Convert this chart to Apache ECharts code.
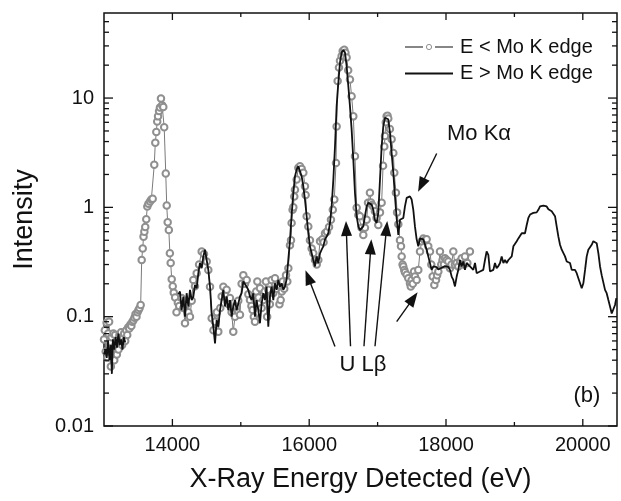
<!DOCTYPE html>
<html>
<head>
<meta charset="utf-8">
<script src="https://cdn.jsdelivr.net/npm/echarts@6/dist/echarts.min.js"></script>
<style>
html, body { margin: 0; background: #fff; }
#chart { width: 621px; height: 501px; }
</style>
</head>
<body>
<div id="chart"></div>
<script>
// E < Mo K edge (open circles)
const belowEdge = [
  [13000,0.062],[13012,0.075],[13025,0.048],[13038,0.088],[13050,0.042],[13062,0.07],[13075,0.09],[13088,0.058],
  [13100,0.035],[13112,0.065],[13125,0.052],[13138,0.07],[13150,0.04],[13162,0.068],[13175,0.055],[13188,0.045],
  [13200,0.062],[13212,0.05],[13225,0.068],[13238,0.058],[13250,0.072],[13265,0.055],[13280,0.065],[13295,0.07],
  [13310,0.06],[13325,0.075],[13340,0.068],[13355,0.08],[13370,0.078],[13385,0.085],[13400,0.082],[13415,0.09],
  [13430,0.093],[13445,0.098],[13460,0.105],[13475,0.1],[13490,0.11],[13505,0.115],[13520,0.12],[13536,0.128],
  [13551,0.33],[13566,0.42],[13578,0.54],[13590,0.6],[13603,0.66],[13618,0.78],[13633,1.02],[13650,1.08],
  [13673,1.13],[13692,1.18],[13712,1.2],[13735,2.46],[13750,3.9],[13765,4.9],[13778,6.1],[13790,6.8],
  [13805,7.6],[13818,8.2],[13833,9.9],[13850,8.6],[13867,8.3],[13880,5.4],[13903,2.04],[13917,1.04],
  [13931,0.73],[13948,0.62],[13963,0.38],[13975,0.31],[13990,0.22],[14005,0.19],[14020,0.166],[14040,0.15],
  [14060,0.11],[14080,0.134],[14100,0.125],[14135,0.148],[14160,0.12],[14184,0.087],[14210,0.13],[14233,0.11],
  [14257,0.1],[14282,0.14],[14306,0.217],[14330,0.19],[14355,0.25],[14390,0.3],[14428,0.395],[14462,0.375],
  [14501,0.32],[14525,0.268],[14550,0.188],[14574,0.097],[14600,0.075],[14623,0.09],[14650,0.11],[14671,0.073],
  [14700,0.12],[14720,0.153],[14745,0.188],[14770,0.16],[14793,0.176],[14820,0.13],[14842,0.148],[14866,0.11],
  [14890,0.073],[14915,0.1],[14939,0.124],[14963,0.14],[14988,0.104],[15012,0.2],[15037,0.24],[15062,0.2],
  [15086,0.217],[15110,0.16],[15134,0.142],[15155,0.125],[15173,0.115],[15190,0.1],[15207,0.09],[15225,0.17],
  [15242,0.21],[15260,0.15],[15281,0.182],[15305,0.12],[15329,0.142],[15350,0.17],[15368,0.21],[15385,0.1],
  [15402,0.176],[15425,0.13],[15451,0.217],[15475,0.165],[15500,0.225],[15525,0.18],[15549,0.195],[15565,0.13],
  [15583,0.142],[15600,0.17],[15612,0.21],[15635,0.18],[15661,0.24],[15680,0.21],[15695,0.278],[15719,0.45],
  [15734,0.5],[15743,0.72],[15757,0.95],[15768,1.0],[15782,1.26],[15792,1.45],[15817,1.8],[15841,2.3],
  [15865,2.38],[15890,2.25],[15914,2.07],[15938,1.56],[15948,1.3],[15963,0.83],[15987,0.67],[16011,0.5],
  [16036,0.42],[16060,0.38],[16085,0.33],[16110,0.3],[16133,0.33],[16158,0.49],[16192,0.51],[16210,0.48],
  [16231,0.58],[16260,0.6],[16290,0.66],[16318,0.77],[16345,0.95],[16367,1.18],[16392,2.55],[16401,5.5],
  [16416,14.3],[16435,19],[16450,21.9],[16474,24.3],[16490,27],[16513,27.6],[16530,26],[16547,23.5],
  [16570,18],[16596,14.8],[16620,10.4],[16645,6.8],[16669,2.94],[16694,0.99],[16718,0.85],[16742,0.83],
  [16765,0.65],[16791,0.56],[16815,0.65],[16840,0.77],[16860,1.1],[16888,1.36],[16903,1.11],[16920,1.05],
  [16937,1.02],[16961,0.92],[16985,0.8],[17010,0.69],[17035,0.9],[17059,1.1],[17080,2.4],[17098,3.6],
  [17108,4.5],[17120,6.0],[17132,6.8],[17145,6.9],[17156,6.5],[17180,5.2],[17205,4.2],[17230,3.15],
  [17244,2.07],[17268,1.36],[17285,0.9],[17303,0.7],[17327,0.5],[17342,0.44],[17352,0.356],[17365,0.3],
  [17376,0.288],[17390,0.268],[17400,0.255],[17425,0.242],[17449,0.225],[17473,0.202],[17485,0.189],[17498,0.217],
  [17515,0.2],[17532,0.259],[17546,0.233],[17571,0.217],[17595,0.268],[17620,0.395],[17644,0.49],[17668,0.52],
  [17690,0.5],[17717,0.51],[17741,0.44],[17766,0.395],[17785,0.3],[17805,0.233],[17829,0.195],[17854,0.217],
  [17870,0.24],[17888,0.259],[17912,0.395],[17930,0.3],[17951,0.33],[17970,0.3],[17985,0.343],[18010,0.33],
  [18034,0.32],[18058,0.278],[18080,0.3],[18107,0.395],[18130,0.3],[18156,0.31],[18180,0.288],[18205,0.32],
  [18229,0.343],[18255,0.3],[18277,0.356],[18312,0.31],[18350,0.395]
];

// E > Mo K edge (solid line), null = gap
const aboveEdge = [
  [13000,0.045],[13020,0.05],[13040,0.042],[13060,0.06],[13080,0.04],[13100,0.055],[13115,0.03],[13130,0.062],
  [13150,0.05],[13170,0.065],[13190,0.052],[13210,0.07],[13230,0.055],[13250,0.062],[13270,0.05],[13290,0.065],
  [13310,0.058],[13320,null],
  [14085,0.16],[14111,0.17],[14135,0.115],[14160,0.153],[14184,0.1],[14208,0.164],[14233,0.124],[14257,0.176],
  [14282,0.142],[14306,0.153],[14330,0.195],[14355,0.182],[14379,0.25],[14403,0.31],[14428,0.278],[14452,0.355],
  [14476,0.41],[14501,0.33],[14525,0.268],[14550,0.188],[14574,0.107],[14598,0.081],[14623,0.057],[14647,0.093],
  [14671,0.081],[14696,0.115],[14720,0.142],[14744,0.176],[14769,0.124],[14793,0.153],[14817,0.115],[14842,0.142],
  [14866,0.1],[14890,0.124],[14915,0.142],[14939,0.115],[14963,0.131],[14988,0.153],[15012,0.164],[15037,0.21],
  [15061,0.217],[15085,0.188],[15110,0.176],[15134,0.153],[15158,0.142],[15183,0.164],[15207,0.1],[15231,0.142],
  [15256,0.115],[15280,0.087],[15304,0.131],[15329,0.164],[15353,0.142],[15377,0.188],[15402,0.081],[15426,0.153],
  [15451,0.188],[15475,0.142],[15499,0.202],[15524,0.176],[15548,0.217],[15572,0.188],[15597,0.202],[15621,0.176],
  [15645,0.188],[15670,0.22],[15694,0.33],[15719,0.5],[15743,0.85],[15768,1.35],[15792,1.92],[15817,2.22],
  [15841,2.38],[15865,2.3],[15890,1.92],[15914,1.56],[15938,1.18],[15963,0.83],[15987,0.58],[16011,0.44],
  [16036,0.38],[16060,0.33],[16085,0.288],[16109,0.356],[16133,0.31],[16158,0.38],[16182,0.41],[16206,0.44],
  [16231,0.51],[16255,0.54],[16279,0.58],[16304,0.72],[16328,1.02],[16353,1.8],[16377,3.6],[16401,8.4],
  [16426,13.8],[16450,21.1],[16474,26.1],[16499,27.6],[16523,26.1],[16547,19.7],[16572,12.9],[16596,8.4],
  [16620,5.2],[16645,2.74],[16669,1.36],[16694,0.83],[16718,0.67],[16742,0.62],[16767,0.6],[16791,0.67],
  [16815,0.83],[16840,1.02],[16864,1.1],[16888,1.14],[16913,1.06],[16937,0.95],[16961,0.77],[16986,0.72],
  [17010,0.89],[17035,1.8],[17059,3.6],[17083,5.5],[17108,6.6],[17132,6.8],[17156,6.4],[17181,4.8],
  [17205,3.15],[17230,2.07],[17254,1.26],[17278,0.8],[17303,0.56],[17327,0.77],[17352,0.78],[17376,0.8],
  [17400,1.02],[17425,1.22],[17449,1.26],[17473,1.26],[17498,1.18],[17522,0.95],[17546,0.67],[17571,0.51],
  [17595,0.44],[17620,0.52],[17644,0.54],[17668,0.51],[17693,0.49],[17717,0.41],[17741,0.356],[17766,0.343],
  [17790,0.268],[17815,0.288],[17839,0.278],[17863,0.284],[17888,0.27],[17912,0.272],[17937,0.28],[17961,0.288],
  [17985,0.29],[18009,0.298],[18034,0.285],[18058,0.268],[18083,0.233],[18107,0.217],[18131,0.189],[18156,0.233],
  [18180,0.268],[18204,0.33],[18229,0.288],[18253,0.32],[18277,0.268],[18302,0.31],[18326,0.32],[18350,0.288],
  [18375,0.28],[18399,0.268],[18424,0.31],[18448,0.25],[18472,0.26],[18497,0.259],[18521,0.265],[18545,0.268],
  [18570,0.33],[18594,0.395],[18619,0.368],[18643,0.259],[18667,0.262],[18692,0.268],[18716,0.31],[18740,0.278],
  [18765,0.29],[18790,0.31],[18814,0.356],[18839,0.31],[18863,0.33],[18887,0.31],[18912,0.33],[18936,0.32],
  [18961,0.356],[18985,0.44],[19009,0.455],[19034,0.49],[19058,0.52],[19082,0.54],[19107,0.58],[19131,0.56],
  [19155,0.58],[19180,0.69],[19204,0.8],[19229,0.86],[19253,0.89],[19277,0.89],[19302,0.89],[19326,0.9],
  [19350,0.95],[19375,1.02],[19399,0.99],[19424,1.04],[19448,1.07],[19472,1.02],[19497,0.96],[19521,0.99],
  [19545,0.92],[19570,0.89],[19594,0.83],[19618,0.67],[19643,0.54],[19667,0.455],[19692,0.41],[19716,0.42],
  [19740,0.356],[19765,0.32],[19789,0.33],[19813,0.31],[19838,0.268],[19862,0.265],[19886,0.268],[19911,0.25],
  [19935,0.225],[19960,0.202],[19984,0.182],[20008,0.202],[20033,0.268],[20057,0.356],[20081,0.41],[20106,0.395],
  [20130,0.455],[20154,0.49],[20179,0.51],[20203,0.47],[20228,0.38],[20252,0.288],[20276,0.24],[20301,0.233],
  [20325,0.176],[20349,0.164],[20374,0.142],[20398,0.124],[20423,0.107],[20447,0.111],[20471,0.128],[20490,0.148]
];

const seriesNames = ['E < Mo K edge', 'E > Mo K edge'];
const xMajorTicks = [14000, 16000, 18000, 20000];
const xMinorTicks = [15000, 17000, 19000];
const yDecades = [0.01, 0.1, 1, 10];
const yTickLabels = ['0.01', '0.1', '1', '10'];
const yMinorTicks = [0.02,0.03,0.04,0.05,0.06,0.07,0.08,0.09, 0.2,0.3,0.4,0.5,0.6,0.7,0.8,0.9,
  2,3,4,5,6,7,8,9, 20,30,40,50];

// arrows: [tail, head]
const arrows = [
  [[16377,0.0533],[15985,0.23]],
  [[16604,0.0537],[16542,0.641]],
  [[16801,0.0537],[16901,0.436]],
  [[16962,0.0537],[17130,0.641]],
  [[17864,3.11],[17640,1.6]],
  [[17279,0.09],[17521,0.147]]
];
const notes = [
  { text: 'Mo K\u03b1', at: [18483, 4.74] },
  { text: 'U L\u03b2', at: [16787, 0.036] },
  { text: '(b)', at: [20061, 0.0187] }
];

const font = 'Liberation Sans, Arial, sans-serif';
const ink = '#111';
const circleGray = '#8f8f8f';

let myChart = echarts.init(document.getElementById('chart'))
let option = {
  animation: false,
  grid: { left: 104, right: 4, top: 13, bottom: 75, show: true, borderColor: ink, borderWidth: 1.5 },
  xAxis: {
    type: 'value', min: 13000, max: 20500, interval: 1000,
    name: 'X-Ray Energy Detected (eV)', nameLocation: 'middle', nameGap: 40,
    nameTextStyle: { fontSize: 27, color: ink, fontFamily: font },
    axisLine: { show: false }, axisTick: { show: false }, splitLine: { show: false },
    axisLabel: {
      fontSize: 20, color: ink, fontFamily: font, margin: 9,
      formatter: v => xMajorTicks.includes(v) ? String(v) : ''
    }
  },
  yAxis: {
    type: 'log', logBase: 10, min: 0.01, max: 60,
    name: 'Intensity', nameLocation: 'middle', nameGap: 66,
    nameTextStyle: { fontSize: 27, color: ink, fontFamily: font },
    axisLine: { show: false }, axisTick: { show: false }, splitLine: { show: false },
    axisLabel: {
      fontSize: 20, color: ink, fontFamily: font, margin: 10,
      formatter: v => {
        const i = yDecades.findIndex(d => Math.abs(Math.log10(d) - Math.log10(v)) < 1e-6)
        return i >= 0 ? yTickLabels[i] : ''
      }
    }
  },
  series: [
    {
      name: seriesNames[0], type: 'line', data: belowEdge,
      symbol: 'emptyCircle', symbolSize: 6.5, showAllSymbol: true,
      lineStyle: { color: '#7a7a7a', width: 1 },
      itemStyle: { color: circleGray, borderWidth: 1 },
      z: 2
    },
    {
      name: seriesNames[1], type: 'line', data: aboveEdge,
      symbol: 'none', connectNulls: false,
      lineStyle: { color: ink, width: 1.8 },
      itemStyle: { color: ink },
      z: 3,
      markLine: {
        silent: true, animation: false,
        symbol: ['none', 'triangle'], symbolSize: [11, 15],
        label: { show: false },
        lineStyle: { color: ink, width: 1.4, type: 'solid' },
        emphasis: { disabled: true },
        data: arrows.map(a => [{ coord: a[0] }, { coord: a[1] }])
      }
    }
  ]
}
myChart.setOption(option)

// frame ticks (inward on all four sides), legend and text notes, placed from the axes
function decorate() {
  const px = v => myChart.convertToPixel({ xAxisIndex: 0 }, v)
  const py = v => myChart.convertToPixel({ yAxisIndex: 0 }, v)
  const x0 = px(13000), x1 = px(20500), y0 = py(0.01), y1 = py(60)
  const g = []
  const line = (ax, ay, bx, by, color, w) => g.push({
    type: 'line', silent: true, z: 10,
    shape: { x1: ax, y1: ay, x2: bx, y2: by },
    style: { stroke: color || ink, lineWidth: w || 1.3 }
  })
  xMajorTicks.forEach(v => { const x = px(v); line(x, y0, x, y0 - 7); line(x, y1, x, y1 + 7) })
  xMinorTicks.forEach(v => { const x = px(v); line(x, y0, x, y0 - 4); line(x, y1, x, y1 + 4) })
  yDecades.forEach(v => { const y = py(v); line(x0, y, x0 + 9, y); line(x1, y, x1 - 9, y) })
  yMinorTicks.forEach(v => { const y = py(v); line(x0, y, x0 + 5, y); line(x1, y, x1 - 5, y) })

  // legend
  const lx = x1 - 212, ly = y1 + 34, rowGap = 26.5
  line(lx, ly, lx + 18, ly, '#444', 1.3)
  line(lx + 30, ly, lx + 48, ly, '#444', 1.3)
  g.push({
    type: 'circle', silent: true, z: 10,
    shape: { cx: lx + 24, cy: ly, r: 2.6 },
    style: { fill: '#fff', stroke: circleGray, lineWidth: 1 }
  })
  line(lx, ly + rowGap, lx + 48, ly + rowGap, ink, 1.8)
  seriesNames.forEach((s, i) => g.push({
    type: 'text', silent: true, z: 10,
    x: lx + 55, y: ly + i * rowGap,
    style: { text: s, fill: ink, fontSize: 20, fontFamily: font, align: 'left', verticalAlign: 'middle' }
  }))

  notes.forEach(n => g.push({
    type: 'text', silent: true, z: 10,
    x: px(n.at[0]), y: py(n.at[1]),
    style: { text: n.text, fill: ink, fontSize: 22, fontFamily: font, align: 'center', verticalAlign: 'middle' }
  }))
  myChart.setOption({ graphic: g })
}
decorate()
window.addEventListener('resize', function () {
  myChart.resize()
  decorate()
})
</script>
</body>
</html>
